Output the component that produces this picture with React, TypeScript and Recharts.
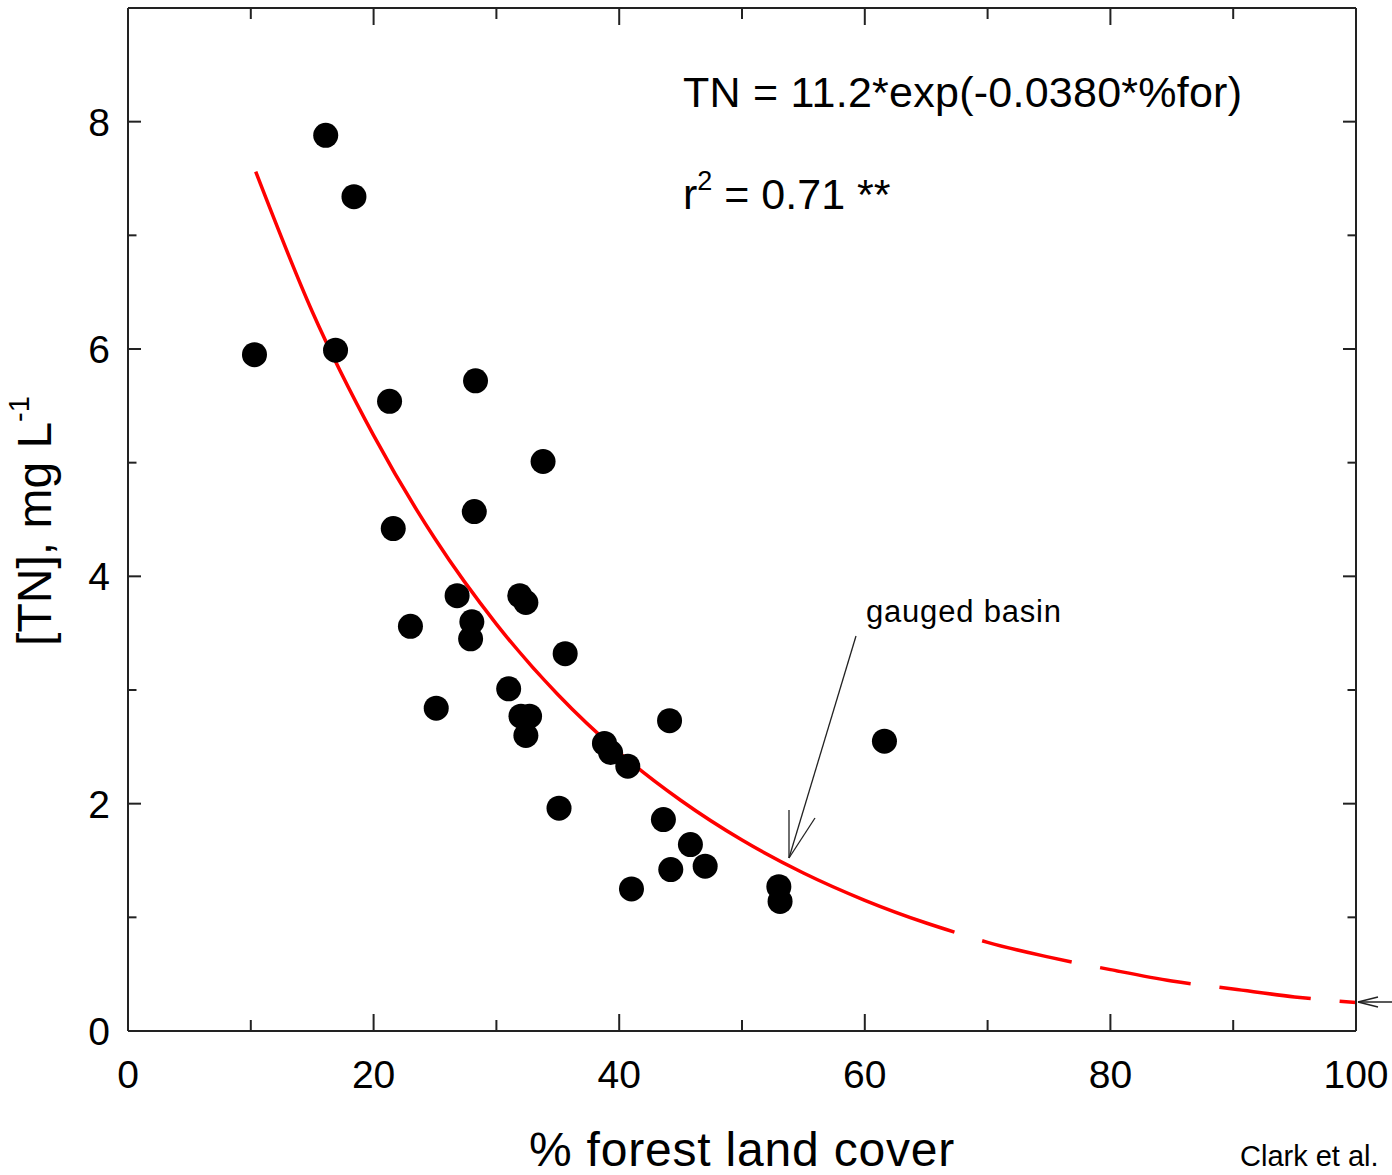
import React from 'react';
import { ComposedChart, Scatter, Line, XAxis, YAxis, Customized } from 'recharts';

// Observed basins: % forest land cover vs [TN] (mg/L)
const forestPct = [10.3, 16.1, 18.4, 16.9, 21.3, 28.3, 33.8, 21.6, 28.2, 26.8, 31.9, 32.4, 28.0, 27.9, 23.0, 35.6, 25.1, 31.0, 32.0, 32.7, 32.4, 38.8, 39.3, 40.7, 44.1, 35.1, 43.6, 45.8, 44.2, 47.0, 41.0, 53.0, 53.1, 61.6];
const tnConc = [5.95, 7.88, 7.34, 5.99, 5.54, 5.72, 5.01, 4.42, 4.57, 3.83, 3.83, 3.77, 3.60, 3.45, 3.56, 3.32, 2.84, 3.01, 2.77, 2.77, 2.60, 2.53, 2.45, 2.33, 2.73, 1.96, 1.86, 1.64, 1.42, 1.45, 1.25, 1.27, 1.14, 2.55];

// Fitted curve (solid over the data range, dashed extrapolation)
const fitSolidX = [10.4, 15, 20, 25, 30, 35, 40, 45, 50, 55, 60, 65, 67.3];
const fitSolidY = [7.56, 6.33, 5.24, 4.33, 3.58, 2.96, 2.45, 2.03, 1.68, 1.39, 1.15, 0.95, 0.87];
const fitDashX = [67.3, 70, 75, 80, 85, 90, 95, 100];
const fitDashY = [0.87, 0.78, 0.65, 0.54, 0.44, 0.37, 0.30, 0.25];

const xTicks = [0, 10, 20, 30, 40, 50, 60, 70, 80, 90, 100];
const yTicks = [0, 1, 2, 3, 4, 5, 6, 7, 8];

const points = forestPct.map((x, i) => ({ x, y: tnConc[i] }));
const fitSolid = fitSolidX.map((x, i) => ({ x, y: fitSolidY[i] }));
const fitDash = fitDashX.map((x, i) => ({ x, y: fitDashY[i] }));

const FONT = 'Liberation Sans, Arial, Helvetica, sans-serif';
const FRAME = '#222';

const BottomTick = (props: any) => {
  const { x, y, payload } = props;
  const major = payload.value % 20 === 0;
  return (
    <g>
      <line x1={x} x2={x} y1={y} y2={y - (major ? 17 : 11)} stroke={FRAME} strokeWidth={2} />
      {major && (
        <text x={x} y={y + 57} textAnchor="middle" fontSize={39} fontFamily={FONT} fill="#000">
          {payload.value}
        </text>
      )}
    </g>
  );
};

const TopTick = (props: any) => {
  const { x, y, payload } = props;
  const major = payload.value % 20 === 0;
  return <line x1={x} x2={x} y1={y} y2={y + (major ? 17 : 11)} stroke={FRAME} strokeWidth={2} />;
};

const LeftTick = (props: any) => {
  const { x, y, payload } = props;
  const major = payload.value % 2 === 0;
  return (
    <g>
      <line x1={x} x2={x + (major ? 13 : 8.5)} y1={y} y2={y} stroke={FRAME} strokeWidth={2} />
      {major && (
        <text x={x - 18} y={y} dy="0.36em" textAnchor="end" fontSize={39} fontFamily={FONT} fill="#000">
          {payload.value}
        </text>
      )}
    </g>
  );
};

const RightTick = (props: any) => {
  const { x, y, payload } = props;
  const major = payload.value % 2 === 0;
  return <line x1={x} x2={x - (major ? 13 : 8.5)} y1={y} y2={y} stroke={FRAME} strokeWidth={2} />;
};

const Dot = (props: any) => <circle cx={props.cx} cy={props.cy} r={12.5} fill="#000" />;

const Annotations = () => (
  <g fontFamily={FONT} fill="#000">
    <text x={683} y={107} fontSize={43} letterSpacing={0.25}>TN = 11.2*exp(-0.0380*%for)</text>
    <text x={683} y={209} fontSize={43}>
      r<tspan fontSize={27} dy={-19}>2</tspan><tspan dy={19}> = 0.71 **</tspan>
    </text>
    <text x={866} y={622} fontSize={31} letterSpacing={0.8}>gauged basin</text>
    <g stroke="#222" strokeWidth={1.3} fill="none">
      <line x1={856} y1={636} x2={789} y2={858} />
      <line x1={789} y1={858} x2={789} y2={810} />
      <line x1={789} y1={858} x2={815} y2={818} />
      <line x1={1358} y1={1002} x2={1392} y2={1002} />
      <line x1={1358} y1={1002} x2={1378} y2={997} />
      <line x1={1358} y1={1002} x2={1378} y2={1007} />
    </g>
    <text x={742} y={1166} fontSize={48} letterSpacing={0.8} textAnchor="middle">% forest land cover</text>
    <text transform="translate(51, 521) rotate(-90)" x={0} y={0} fontSize={48} textAnchor="middle">
      [TN], mg L<tspan fontSize={29} dy={-22}>-1</tspan>
    </text>
    <text x={1240} y={1166} fontSize={29}>Clark et al.</text>
  </g>
);

export default function App() {
  return (
    <div style={{ position: 'absolute', left: 0, top: 0, width: 1392, height: 1175, background: '#fff' }}>
      <ComposedChart width={1392} height={1175} margin={{ top: 7, right: 35, bottom: 143, left: 127 }}>
        <XAxis
          xAxisId="b"
          dataKey="x"
          type="number"
          domain={[0, 100]}
          allowDataOverflow
          ticks={xTicks}
          interval={0}
          height={1}
          tickSize={0}
          tickMargin={0}
          tickLine={false}
          axisLine={{ stroke: FRAME, strokeWidth: 2 }}
          tick={<BottomTick />}
        />
        <XAxis
          xAxisId="t"
          orientation="top"
          dataKey="x"
          type="number"
          domain={[0, 100]}
          allowDataOverflow
          ticks={xTicks}
          interval={0}
          height={1}
          tickSize={0}
          tickMargin={0}
          tickLine={false}
          axisLine={{ stroke: FRAME, strokeWidth: 2 }}
          tick={<TopTick />}
        />
        <YAxis
          yAxisId="l"
          dataKey="y"
          type="number"
          domain={[0, 9]}
          allowDataOverflow
          ticks={yTicks}
          interval={0}
          width={1}
          tickSize={0}
          tickMargin={0}
          tickLine={false}
          axisLine={{ stroke: FRAME, strokeWidth: 2 }}
          tick={<LeftTick />}
        />
        <YAxis
          yAxisId="r"
          orientation="right"
          dataKey="y"
          type="number"
          domain={[0, 9]}
          allowDataOverflow
          ticks={yTicks}
          interval={0}
          width={1}
          tickSize={0}
          tickMargin={0}
          tickLine={false}
          axisLine={{ stroke: FRAME, strokeWidth: 2 }}
          tick={<RightTick />}
        />
        <Line
          xAxisId="b"
          yAxisId="l"
          data={fitSolid}
          dataKey="y"
          type="monotone"
          stroke="#ff0000"
          strokeWidth={3.5}
          dot={false}
          activeDot={false}
          isAnimationActive={false}
        />
        <Line
          xAxisId="b"
          yAxisId="l"
          data={fitDash}
          dataKey="y"
          type="monotone"
          stroke="#ff0000"
          strokeWidth={3.5}
          strokeDasharray="92 29"
          strokeDashoffset={92}
          dot={false}
          activeDot={false}
          isAnimationActive={false}
        />
        <Scatter
          xAxisId="b"
          yAxisId="l"
          data={points}
          dataKey="y"
          shape={<Dot />}
          isAnimationActive={false}
        />
        <Customized component={<Annotations />} />
      </ComposedChart>
    </div>
  );
}
